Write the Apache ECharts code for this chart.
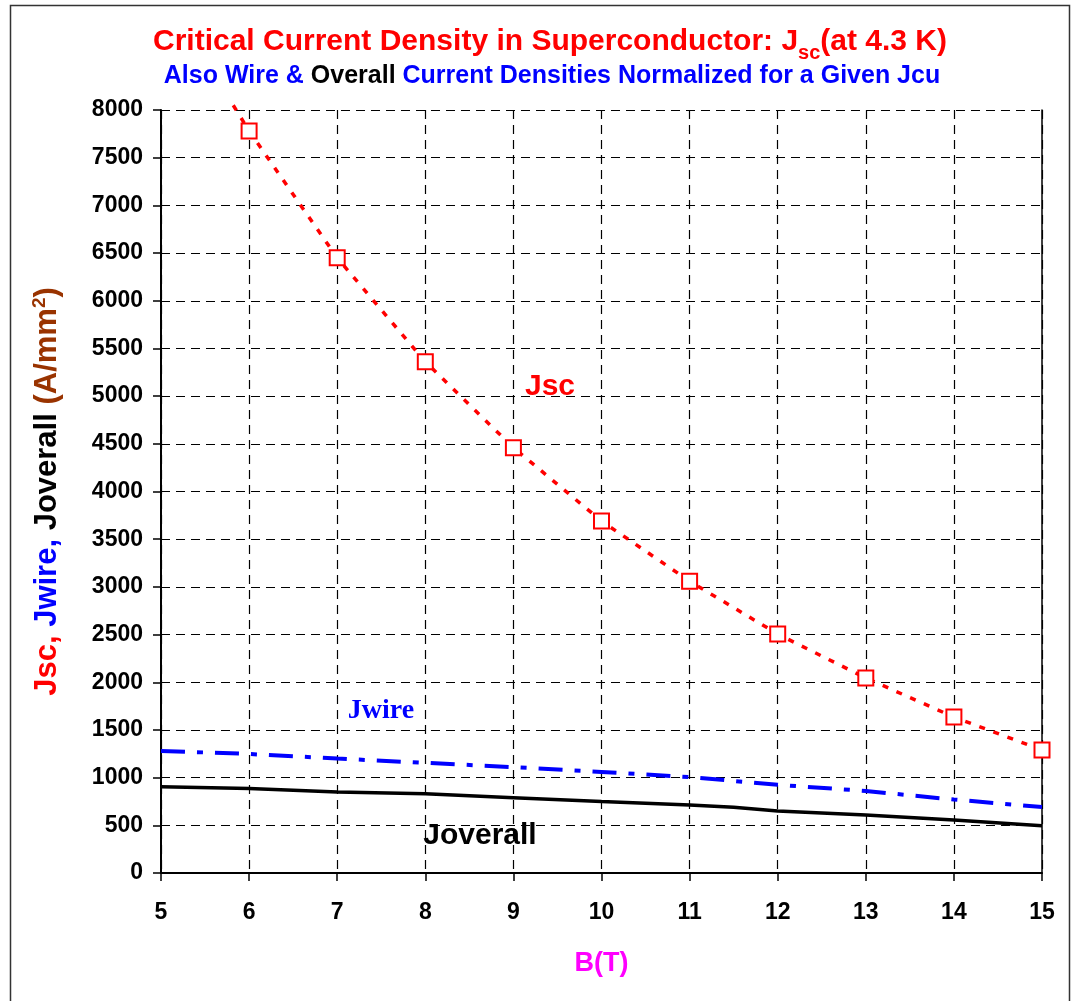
<!DOCTYPE html>
<html>
<head>
<meta charset="utf-8">
<script src="https://cdn.jsdelivr.net/npm/echarts@6/dist/echarts.min.js"></script>
<style>
  html, body { margin: 0; padding: 0; background: #fff; }
  #chart { width: 1075px; height: 1001px; }
</style>
</head>
<body>
<div id="chart"></div>
<script>
// Magnetic field B (T)
const fieldB = [5, 6, 7, 8, 9, 10, 11, 12, 13, 14, 15];

// Critical current density in the superconductor, measured points (A/mm^2)
const jscB = [6, 7, 8, 9, 10, 11, 12, 13, 14, 15];
const jscValues = [7780, 6450, 5360, 4460, 3690, 3060, 2505, 2045, 1635, 1290];
// Fitted curve leaves the top of the plot near B = 5.82 T
const jscCurveStart = [5.82, 8050];

// Wire current density
const jwireValues = [1280, 1248, 1200, 1155, 1110, 1060, 1006, 925, 860, 770, 692];

// Overall current density
const joverallB = [5, 6, 7, 8, 9, 10, 11, 11.5, 12, 13, 14, 15];
const joverallValues = [905, 885, 850, 830, 790, 750, 713, 690, 650, 608, 556, 495];

const yTicks = { min: 0, max: 8000, interval: 500 };
const xTicks = { min: 5, max: 15, interval: 1 };

const FONT = '"Liberation Sans", Arial, sans-serif';

const jscData = [{ value: jscCurveStart, symbol: 'none' }]
  .concat(jscB.map((b, i) => [b, jscValues[i]]));

const chart = echarts.init(document.getElementById('chart'), null, { renderer: 'canvas' });

chart.setOption({
  animation: false,
  backgroundColor: '#ffffff',
  title: [
    {
      left: 545,
      textAlign: 'center',
      top: 15,
      text: '{a|Critical Current Density in Superconductor: J}{s|sc}{a|(at 4.3 K)}',
      textStyle: {
        rich: {
          a: { fontFamily: FONT, fontWeight: 'bold', fontSize: 30, color: '#ff0000', lineHeight: 37, verticalAlign: 'bottom' },
          s: { fontFamily: FONT, fontWeight: 'bold', fontSize: 20, color: '#ff0000', lineHeight: 37, verticalAlign: 'bottom', padding: [0, 0, -6, 0] }
        }
      }
    },
    {
      left: 547,
      textAlign: 'center',
      top: 59,
      text: '{b|Also Wire & }{k|Overall}{b| Current Densities Normalized for a Given Jcu}',
      textStyle: {
        rich: {
          b: { fontFamily: FONT, fontWeight: 'bold', fontSize: 25, color: '#0000ff' },
          k: { fontFamily: FONT, fontWeight: 'bold', fontSize: 25, color: '#000000' }
        }
      }
    }
  ],
  grid: { left: 161, right: 33, top: 110, bottom: 128, containLabel: false },
  xAxis: {
    type: 'value',
    min: xTicks.min, max: xTicks.max, interval: xTicks.interval,
    name: 'B(T)',
    nameLocation: 'middle',
    nameGap: 77,
    nameTextStyle: { fontFamily: FONT, fontWeight: 'bold', fontSize: 27, color: '#ff00ff' },
    axisLine: { onZero: false, lineStyle: { color: '#000', width: 2 } },
    axisTick: { show: true, length: 8, lineStyle: { color: '#000', width: 1.5 } },
    axisLabel: { fontFamily: FONT, fontWeight: 'bold', fontSize: 23, color: '#000', margin: 28 },
    splitLine: { show: true, lineStyle: { color: '#000', width: 1.2, type: [9, 6] } }
  },
  yAxis: [
    {
      type: 'value',
      min: yTicks.min, max: yTicks.max, interval: yTicks.interval,
      name: '{r|Jsc, }{b|Jwire, }{k|Joverall }{o|(A/mm}{sup|2}{o|)}',
      nameLocation: 'middle',
      nameRotate: 90,
      nameGap: 98,
      nameTextStyle: {
        rich: {
          r: { fontFamily: FONT, fontWeight: 'bold', fontSize: 31, color: '#ff0000', lineHeight: 38, verticalAlign: 'bottom' },
          b: { fontFamily: FONT, fontWeight: 'bold', fontSize: 31, color: '#0000ff', lineHeight: 38, verticalAlign: 'bottom' },
          k: { fontFamily: FONT, fontWeight: 'bold', fontSize: 31, color: '#000000', lineHeight: 38, verticalAlign: 'bottom' },
          o: { fontFamily: FONT, fontWeight: 'bold', fontSize: 31, color: '#993300', lineHeight: 38, verticalAlign: 'bottom' },
          sup: { fontFamily: FONT, fontWeight: 'bold', fontSize: 19, color: '#993300', lineHeight: 38, verticalAlign: 'bottom', padding: [0, 0, 14, 0] }
        }
      },
      axisLine: { onZero: false, lineStyle: { color: '#000', width: 2 } },
      axisTick: { show: true, length: 8, lineStyle: { color: '#000', width: 1.5 } },
      axisLabel: {
        fontFamily: FONT, fontWeight: 'bold', fontSize: 23, color: '#000', margin: 18,
        formatter: (v) => String(v)
      },
      splitLine: { show: true, lineStyle: { color: '#000', width: 1.2, type: [9, 6] } }
    },
    {
      type: 'value',
      position: 'right',
      min: yTicks.min, max: yTicks.max, interval: yTicks.interval,
      axisLine: { show: true, lineStyle: { color: '#000', width: 1.5 } },
      axisTick: { show: false },
      axisLabel: { show: false },
      splitLine: { show: false }
    }
  ],
  series: [
    {
      name: 'Jsc',
      type: 'line',
      data: jscData,
      clip: false,
      symbol: 'rect',
      symbolSize: 15,
      itemStyle: { color: '#ffffff', borderColor: '#ff0000', borderWidth: 2 },
      lineStyle: { color: '#ff0000', width: 3.5, type: [6, 9] },
      z: 3
    },
    {
      name: 'Jwire',
      type: 'line',
      data: fieldB.map((b, i) => [b, jwireValues[i]]),
      showSymbol: false,
      symbol: 'none',
      lineStyle: { color: '#0000ff', width: 4, type: [24, 12, 6, 12] },
      z: 2
    },
    {
      name: 'Joverall',
      type: 'line',
      data: joverallB.map((b, i) => [b, joverallValues[i]]),
      showSymbol: false,
      symbol: 'none',
      lineStyle: { color: '#000000', width: 3.5 },
      z: 2
    }
  ],
  graphic: [
    {
      type: 'rect',
      shape: { x: 10.5, y: 5.5, width: 1059, height: 1010 },
      style: { fill: 'none', stroke: '#333333', lineWidth: 1.5 },
      silent: true
    },
    {
      type: 'text', x: 550, y: 387,
      style: { text: 'Jsc', fill: '#ff0000', font: 'bold 30px ' + FONT, textAlign: 'center', textVerticalAlign: 'middle' }
    },
    {
      type: 'text', x: 381, y: 711,
      style: { text: 'Jwire', fill: '#0000ff', font: 'bold 28px "Liberation Serif", "Times New Roman", serif', textAlign: 'center', textVerticalAlign: 'middle' }
    },
    {
      type: 'text', x: 480, y: 836,
      style: { text: 'Joverall', fill: '#000000', font: 'bold 30px ' + FONT, textAlign: 'center', textVerticalAlign: 'middle' }
    }
  ]
});
</script>
</body>
</html>
